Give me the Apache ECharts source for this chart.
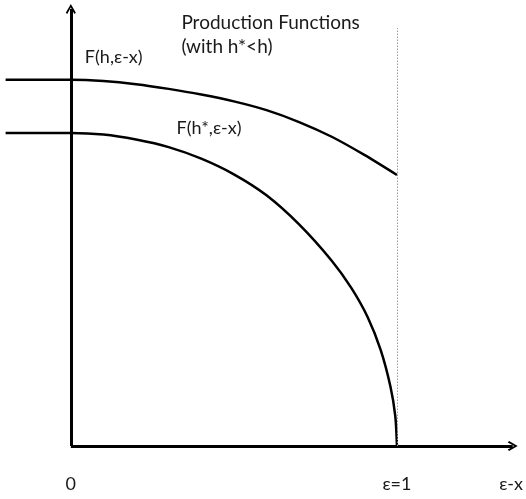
<!DOCTYPE html>
<html>
<head>
<meta charset="utf-8">
<script src="https://cdn.jsdelivr.net/npm/echarts@6/dist/echarts.min.js"></script>
<style>html,body{margin:0;padding:0;background:#fff}#c{width:526px;height:499px}</style>
</head>
<body>
<div id="c"></div>
<script>
// Data (x in units of ε, y relative to F(h*,0))
const upperX = [-0.2, 0, 0.1, 0.2, 0.3, 0.4, 0.5, 0.6, 0.7, 0.8, 0.9, 1.0];
const upperY = [1.17, 1.17, 1.166, 1.156, 1.141, 1.123, 1.101, 1.073, 1.035, 0.988, 0.930, 0.866];
const lowerX = [-0.2, 0, 0.1, 0.2, 0.3, 0.4, 0.5, 0.6, 0.7, 0.8, 0.86, 0.91, 0.95, 0.98, 0.995, 1.0];
const lowerY = [1.0, 1.0, 0.995, 0.979, 0.955, 0.918, 0.868, 0.801, 0.708, 0.592, 0.505, 0.412, 0.307, 0.190, 0.095, 0];
const tickValues = [0, 1, 1.35];
const tickLabels = ['0', 'ε=1', 'ε-x'];
const upperLabel = 'F(h,ε-x)';
const lowerLabel = 'F(h*,ε-x)';
const titleLines = ['Production Functions', '(with h*<h)'];
const titlePos = [0.339, 1.313];
const upperLabelPos = [0.043, 1.243];
const lowerLabelPos = [0.324, 1.016];
const xMin = -0.2, xMax = 1.36, yMin = 0, yMax = 1.4;
const epsLineTop = 1.335;

const FONT = 'Lato, "Open Sans", sans-serif';
const chevron = 'path://M5,0 L10,8.5 L8.6,9.8 L5,3.4 L1.4,9.8 L0,8.5 Z';

const chart = echarts.init(document.getElementById('c'), null, {renderer: 'canvas'});
const zip = (xs, ys) => xs.map((x, i) => [x, ys[i]]);

chart.setOption({
  animation: false,
  backgroundColor: '#fff',
  grid: {left: 5.6, right: 10.4, top: 7.8, bottom: 53},
  xAxis: {
    type: 'value', min: xMin, max: xMax,
    axisLine: {show: false}, axisTick: {show: false}, splitLine: {show: false},
    axisLabel: {
      customValues: tickValues,
      formatter: v => { const i = tickValues.findIndex(t => Math.abs(t - v) < 1e-6); return i >= 0 ? tickLabels[i] : ''; },
      margin: 29, color: '#1a1a1a', fontFamily: FONT, fontSize: 18
    }
  },
  yAxis: {
    type: 'value', min: yMin, max: yMax,
    axisLine: {show: false}, axisTick: {show: false}, splitLine: {show: false}, axisLabel: {show: false}
  },
  series: [
    {
      type: 'line', name: 'upper', data: zip(upperX, upperY), smooth: 0.25, showSymbol: false,
      lineStyle: {color: '#000', width: 2.5}, z: 3
    },
    {
      type: 'line', name: 'lower', data: zip(lowerX, lowerY), smooth: 0.25, showSymbol: false,
      lineStyle: {color: '#000', width: 2.5}, z: 3
    },
    {
      type: 'line', name: 'axes', data: [], silent: true,
      markLine: {
        silent: true, animation: false,
        symbol: ['none', chevron], symbolSize: [10, 10],
        label: {show: false},
        lineStyle: {color: '#000', width: 3, type: 'solid'},
        data: [
          [{coord: [0, 0]}, {coord: [xMax - 0.005, 0]}],
          [{coord: [0, 0]}, {coord: [0, yMax - 0.004]}]
        ]
      },
      z: 4
    },
    {
      type: 'line', name: 'eps', data: [], silent: true,
      markLine: {
        silent: true, animation: false, symbol: ['none', 'none'],
        label: {show: false},
        lineStyle: {color: '#9a9a9a', width: 1, type: [1.5, 1.5]},
        data: [[{coord: [1, 0]}, {coord: [1, epsLineTop]}]]
      },
      z: 2
    },
    {
      type: 'scatter', name: 'labels', data: [], silent: true,
      markPoint: {
        symbol: 'circle', symbolSize: 0, silent: true, animation: false,
        label: {show: true, position: 'right', distance: 0, color: '#1a1a1a', fontFamily: FONT, fontSize: 18},
        data: [
          {coord: titlePos, label: {formatter: titleLines.join('\n'), lineHeight: 24, fontSize: 19}},
          {coord: upperLabelPos, label: {formatter: upperLabel}},
          {coord: lowerLabelPos, label: {formatter: lowerLabel}}
        ]
      }
    }
  ]
});
</script>
</body>
</html>
